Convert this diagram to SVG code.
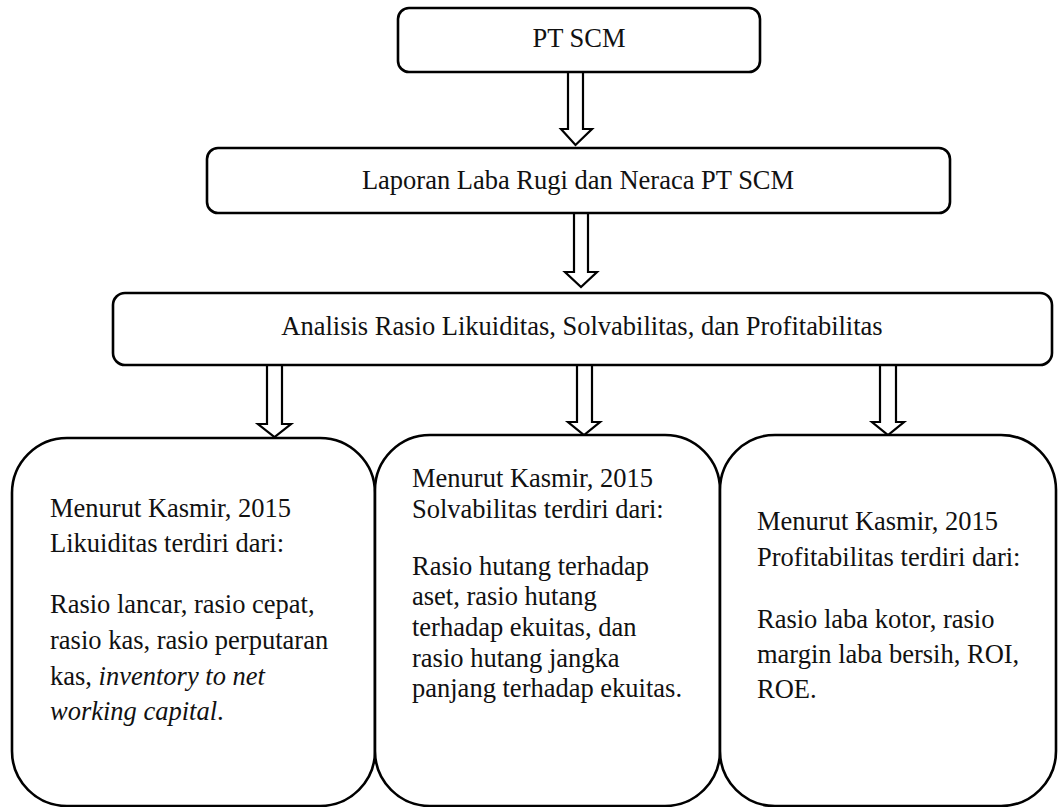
<svg xmlns="http://www.w3.org/2000/svg" width="1059" height="807" viewBox="0 0 1059 807" font-family="'Liberation Serif', 'Times New Roman', serif">
<style>
.box{fill:#fff;stroke:#000;stroke-width:2.6}
.arr{fill:#fff;stroke:#000;stroke-width:2.2;stroke-linejoin:miter}
.t{font-family:'Liberation Serif','Times New Roman',serif;font-size:26.5px;fill:#111}
.c{text-anchor:middle}
.i{font-style:italic}
</style>
<rect width="1059" height="807" fill="#fff"/>
<g id="connectors">
<path class="arr" d="M568,72 L583,72 L583,129 L592,129 L575.5,145 L561,129 L568,129 Z"/>
<path class="arr" d="M574,213 L588,213 L588,272 L597,272 L581,287 L565,272 L574,272 Z"/>
<path class="arr" d="M267,365 L282,365 L282,424 L291,424 L274.5,437 L258,424 L267,424 Z"/>
<path class="arr" d="M577,365 L592,365 L592,422 L600,422 L584,435 L568,422 L577,422 Z"/>
<path class="arr" d="M880,365 L896,365 L896,422 L904,422 L888,435 L872,422 L880,422 Z"/>
</g>
<g id="n1">
<rect class="box" x="398" y="8" width="362" height="64" rx="11"/>
<text class="t c" x="579" y="47">PT SCM</text>
</g>
<g id="n2">
<rect class="box" x="207" y="148" width="743" height="65" rx="11"/>
<text class="t c" x="578" y="189">Laporan Laba Rugi dan Neraca PT SCM</text>
</g>
<g id="n3">
<rect class="box" x="113" y="293" width="939" height="72" rx="12"/>
<text class="t c" x="582" y="335">Analisis Rasio Likuiditas, Solvabilitas, dan Profitabilitas</text>
</g>
<g id="n4">
<rect class="box" x="12" y="438" width="363" height="368" rx="55"/>
<text class="t" x="50" y="517">Menurut Kasmir, 2015</text>
<text class="t" x="50" y="552">Likuiditas terdiri dari:</text>
<text class="t" x="50" y="613">Rasio lancar, rasio cepat,</text>
<text class="t" x="50" y="649">rasio kas, rasio perputaran</text>
<text class="t" x="50" y="685">kas, <tspan class="i">inventory to net</tspan></text>
<text class="t" x="50" y="720"><tspan class="i">working capital</tspan>.</text>
</g>
<g id="n5">
<rect class="box" x="375" y="435" width="345" height="371" rx="55"/>
<text class="t" x="412" y="487">Menurut Kasmir, 2015</text>
<text class="t" x="412" y="518">Solvabilitas terdiri dari:</text>
<text class="t" x="412" y="575">Rasio hutang terhadap</text>
<text class="t" x="412" y="605">aset, rasio hutang</text>
<text class="t" x="412" y="636">terhadap ekuitas, dan</text>
<text class="t" x="412" y="667">rasio hutang jangka</text>
<text class="t" x="412" y="697">panjang terhadap ekuitas.</text>
</g>
<g id="n6">
<rect class="box" x="720" y="435" width="336" height="371" rx="55"/>
<text class="t" x="757" y="530">Menurut Kasmir, 2015</text>
<text class="t" x="757" y="566">Profitabilitas terdiri dari:</text>
<text class="t" x="757" y="628">Rasio laba kotor, rasio</text>
<text class="t" x="757" y="663">margin laba bersih, ROI,</text>
<text class="t" x="757" y="698">ROE.</text>
</g>
</svg>
